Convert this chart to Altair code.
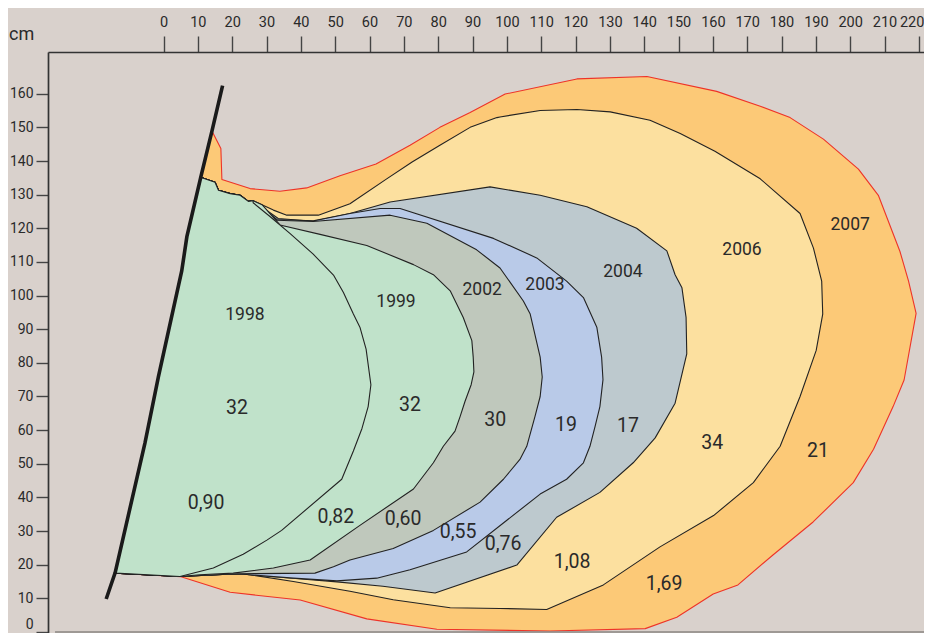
import altair as alt
import pandas as pd

FONT = "Roboto"
BG = "#d9d1cc"
TXT = "#2a2a2a"

# ---- wall (thick black line) ----
wall_x = [-16.7, -14.1, -5.4, -1.5, 5.3, 6.8, 10.8, 14.1, 17.2]
wall_y = [9.8, 17.6, 56.2, 75.8, 107.3, 117.5, 135.0, 148.9, 162.4]

# common left edge: bottom corner and wall up to the 1998 top
left_x = [-14.0, -5.4, -1.5, 5.3, 6.8, 10.8]
left_y = [17.5, 56.2, 75.8, 107.3, 117.5, 135.0]
# jagged top of 1998 up to the junction
top_x = [11.6, 15.0, 16.0, 19.4, 22.3, 24.7, 26.1]
top_y = [134.9, 133.7, 131.3, 130.3, 129.8, 128.0, 128.2]

# ---- year outlines ----
x1998 = [26.1, 31.0, 36.8, 43.6, 49.5, 52.4, 55.3, 57.2, 59.0, 60.4, 59.6, 57.8, 55.3, 51.9, 34.4, 30.1, 23.2, 14.5, 4.8]
y1998 = [127.6, 123.5, 118.5, 112.3, 106.1, 100.9, 94.5, 90.6, 84.1, 73.5, 67.0, 60.5, 53.8, 45.4, 30.2, 27.3, 23.1, 19.0, 16.5]

x1999 = [28.7, 33.9, 45.6, 59.2, 72.8, 78.6, 83.5, 87.3, 89.8, 90.2, 90.4, 89.6, 87.8, 86.4, 84.9, 81.5, 78.6, 72.8, 57.2, 42.7, 32.0, 20.3, 10.6, 4.8]
y1999 = [127.0, 121.0, 118.2, 114.9, 109.2, 106.2, 101.4, 93.5, 86.6, 81.7, 77.3, 73.5, 68.5, 64.1, 59.7, 55.2, 50.3, 42.5, 31.7, 21.4, 19.0, 17.5, 17.0, 16.5]

x2002 = [33.0, 43.6, 66.0, 76.7, 91.2, 98.0, 104.8, 106.8, 109.7, 110.3, 109.7, 108.2, 105.8, 103.8, 99.0, 92.2, 78.6, 66.9, 54.3, 49.5, 44.1, 21.7, 4.8]
y2002 = [122.4, 122.0, 123.9, 121.5, 113.6, 108.2, 98.4, 94.5, 81.7, 75.8, 70.0, 64.1, 55.2, 51.3, 45.4, 38.6, 30.2, 24.8, 21.4, 19.4, 17.5, 17.3, 16.5]

x2003 = [33.0, 43.6, 54.3, 63.1, 68.9, 96.1, 108.7, 117.4, 122.3, 126.2, 127.6, 128.0, 127.1, 125.7, 124.2, 122.3, 117.4, 109.7, 100.0, 88.3, 71.8, 62.1, 50.5, 37.8, 21.3, 4.8]
y2003 = [122.6, 122.2, 124.4, 125.9, 125.9, 117.0, 111.2, 104.3, 99.4, 90.6, 81.7, 75.0, 67.0, 61.1, 55.2, 50.3, 45.4, 41.0, 33.2, 23.8, 18.5, 16.0, 15.2, 16.0, 17.3, 16.5]

x2004 = [33.4, 43.6, 54.3, 66.0, 95.1, 109.7, 123.3, 137.8, 146.6, 149.0, 151.0, 152.2, 152.4, 149.0, 143.2, 136.8, 127.1, 114.5, 102.9, 79.1, 63.9, 50.5, 21.8, 4.8]
y2004 = [122.9, 122.1, 124.4, 127.8, 132.3, 129.8, 126.4, 120.0, 113.3, 106.2, 102.3, 93.5, 82.7, 68.0, 57.7, 50.3, 41.5, 34.1, 19.9, 11.6, 13.6, 14.9, 17.3, 16.5]

x2006 = [32.0, 35.9, 45.1, 54.3, 65.0, 72.4, 80.5, 89.3, 97.1, 98.0, 109.7, 120.4, 130.1, 141.7, 150.5, 160.6, 173.8, 185.4, 189.3, 191.7, 192.0, 190.1, 185.4, 179.6, 171.8, 160.2, 144.6, 128.1, 111.6, 98.0, 83.5, 66.9, 54.3, 37.8, 25.2, 21.8, 4.8]
y2006 = [125.4, 123.9, 123.9, 127.3, 134.7, 139.7, 144.7, 150.0, 152.9, 153.1, 155.0, 155.3, 154.6, 152.1, 148.2, 142.9, 134.7, 124.4, 114.1, 104.3, 94.5, 83.7, 70.0, 55.2, 44.4, 34.6, 25.3, 14.0, 6.7, 7.0, 7.2, 9.6, 12.1, 15.0, 17.0, 17.3, 16.5]

x2007 = [14.1, 16.7, 17.0, 25.2, 33.9, 41.7, 51.4, 61.9, 71.8, 80.5, 89.3, 99.5, 120.4, 140.8, 161.1, 173.8, 182.5, 192.2, 202.4, 208.2, 214.5, 217.0, 219.2, 215.7, 212.5, 206.8, 200.9, 189.2, 177.5, 167.3, 160.1, 149.5, 140.3, 112.6, 79.6, 59.2, 39.8, 19.4, 5.1]
y2007 = [148.9, 143.7, 134.5, 131.8, 131.0, 132.0, 135.6, 139.1, 144.7, 150.0, 154.4, 159.9, 164.4, 165.1, 160.7, 156.3, 152.9, 146.5, 137.6, 129.8, 113.1, 104.3, 94.7, 74.9, 67.0, 54.3, 44.4, 32.7, 22.9, 14.0, 11.3, 4.4, 1.0, 0.3, 0.8, 3.9, 9.5, 11.8, 16.4]

# ---- labels ----
year_labels = ["1998", "1999", "2002", "2003", "2004", "2006", "2007"]
year_x = [23.7, 67.7, 92.8, 111.1, 133.8, 168.5, 200.0]
year_y = [94.1, 98.2, 101.7, 103.2, 107.0, 113.5, 120.9]

val_labels = ["32", "0,90", "32", "0,82", "30", "0,60", "19", "0,55", "17", "0,76", "34", "1,08", "21", "1,69"]
val_x = [21.4, 12.4, 71.8, 50.2, 96.6, 69.8, 117.2, 85.8, 135.3, 98.9, 159.8, 119.0, 190.6, 145.8]
val_y = [66.7, 38.2, 67.6, 34.3, 62.9, 33.5, 61.4, 29.6, 61.1, 26.1, 56.1, 20.8, 53.8, 14.3]

x_ticks = list(range(0, 221, 10))
y_ticks = list(range(0, 161, 10))

xs = alt.Scale(domain=[-33.65, 221.5], nice=False, zero=False)
ys = alt.Scale(domain=[-0.3, 172.4], nice=False, zero=False)

x_axis = alt.Axis(orient="top", values=x_ticks, title=None, grid=False,
                  tickSize=16, tickWidth=1.4, tickColor="#444",
                  domainColor="#333", domainWidth=1.7,
                  labelFont=FONT, labelFontSize=14.5, labelColor=TXT,
                  labelPadding=7, labelFlush=10, labelFlushOffset=5,
                  labelOverlap=False)
y_axis = alt.Axis(orient="left", values=y_ticks, title="cm", grid=False,
                  tickSize=12, tickWidth=1.4, tickColor="#444",
                  domainColor="#333", domainWidth=1.7,
                  labelFont=FONT, labelFontSize=14, labelColor=TXT,
                  labelPadding=3, labelFlush=5, labelOverlap=False,
                  titleAngle=0, titleX=-26.8, titleY=-13, titleAlign="center",
                  titleBaseline="alphabetic", titleFont=FONT, titleFontSize=18,
                  titleFontWeight="normal", titleColor=TXT)

X = alt.X("x:Q", scale=xs, axis=x_axis)
Y = alt.Y("y:Q", scale=ys, axis=y_axis)


def polygon(px, py, fill, stroke):
    df = pd.DataFrame({"x": px, "y": py, "i": list(range(len(px)))})
    return alt.Chart(df).mark_line(
        fill=fill, stroke=stroke, strokeWidth=1.1, interpolate="linear-closed",
        strokeJoin="round", clip=True
    ).encode(x=X, y=Y, order="i:Q")


layers = [
    polygon(left_x + x2007, left_y + y2007, "#fcc977", "#ee3328"),
    polygon(left_x + top_x + x2006, left_y + top_y + y2006, "#fce09f", "#222222"),
    polygon(left_x + top_x + x2004, left_y + top_y + y2004, "#bdc9ce", "#222222"),
    polygon(left_x + top_x + x2003, left_y + top_y + y2003, "#b9cae8", "#222222"),
    polygon(left_x + top_x + x2002, left_y + top_y + y2002, "#bfc8bc", "#222222"),
    polygon(left_x + top_x + x1999, left_y + top_y + y1999, "#c0e2ca", "#222222"),
    polygon(left_x + top_x + x1998, left_y + top_y + y1998, "#c0e2ca", "#222222"),
]

base_df = pd.DataFrame({"x": [-31.6], "x2": [221.5], "y": [0.0]})
base_line = alt.Chart(base_df).mark_rule(color="#8a8683", strokeWidth=1.7).encode(
    x=X, x2="x2:Q", y=Y)

wall_df = pd.DataFrame({"x": wall_x, "y": wall_y, "i": list(range(len(wall_x)))})
wall = alt.Chart(wall_df).mark_line(color="#1a1a1a", strokeWidth=3.6, strokeCap="butt").encode(
    x=X, y=Y, order="i:Q")

yr_df = pd.DataFrame({"x": year_x, "y": year_y, "t": year_labels})
yr_text = alt.Chart(yr_df).mark_text(font=FONT, fontSize=17.5, color=TXT,
                                     align="center", baseline="middle").encode(
    x=X, y=Y, text="t:N")

val_df = pd.DataFrame({"x": val_x, "y": val_y, "t": val_labels})
val_text = alt.Chart(val_df).mark_text(font=FONT, fontSize=19.5, color=TXT,
                                       align="center", baseline="middle").encode(
    x=X, y=Y, text="t:N")

chart = alt.layer(*layers, base_line, wall, yr_text, val_text).properties(
    width=876, height=581,
    background=BG,
    padding={"left": 40, "top": 44, "right": 0, "bottom": 0},
    autosize=alt.AutoSizeParams(type="none"),
).configure_view(stroke=None)

chart.save("out.html", embed_options={"renderer": "svg", "actions": False})
